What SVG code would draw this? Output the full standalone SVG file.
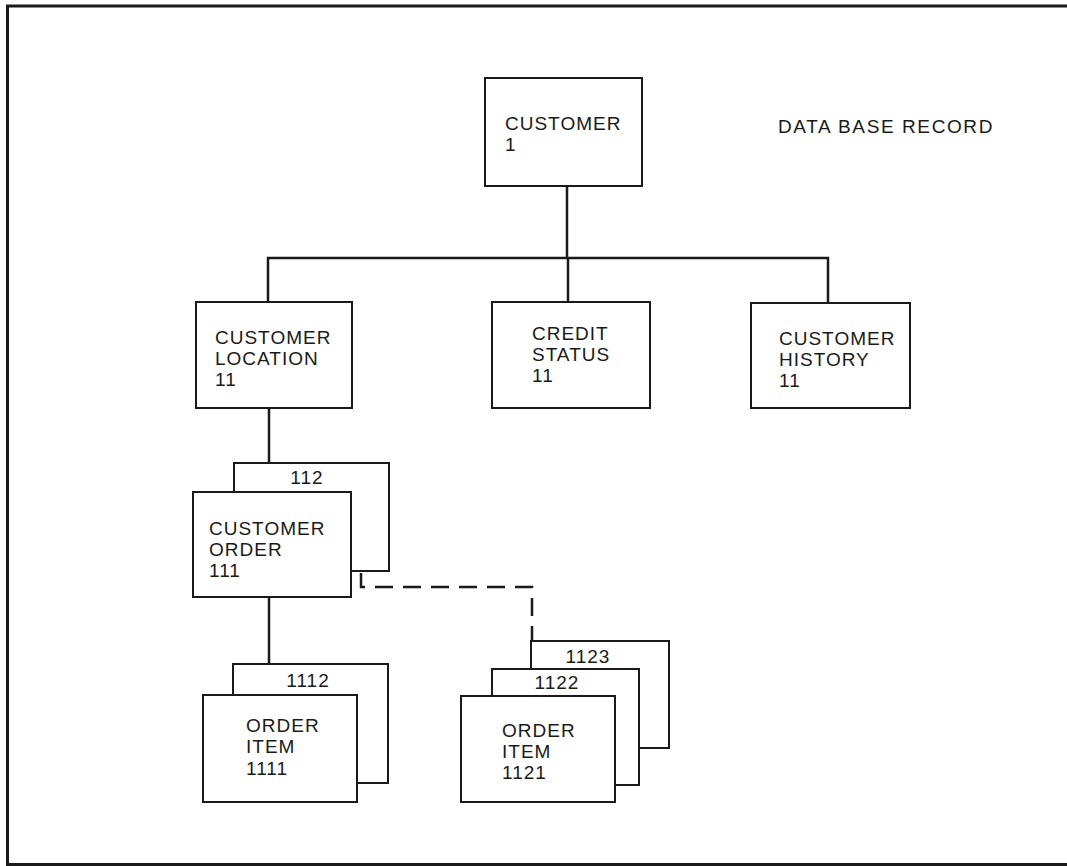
<svg xmlns="http://www.w3.org/2000/svg" width="1067" height="866" viewBox="0 0 1067 866">
  <style>
    .frame { fill: none; stroke: #1a1a1a; stroke-width: 3; }
    .box { fill: #ffffff; stroke: #1a1a1a; stroke-width: 2; }
    .link { fill: none; stroke: #1a1a1a; stroke-width: 2.5; }
    .dash { fill: none; stroke: #1a1a1a; stroke-width: 2.5; stroke-dasharray: 18 10; }
    text { font-family: "Liberation Sans", Arial, sans-serif; font-size: 19px; fill: #1a1a1a; letter-spacing: 1px; }
    .mid { text-anchor: middle; }
  </style>

  <rect x="0" y="0" width="1067" height="866" fill="#ffffff"/>

  <!-- outer frame (right side runs off the page) -->
  <path class="frame" d="M1070 6 H7.5 V864.5 H1070"/>

  <!-- connectors -->
  <g id="connectors">
    <path class="link" d="M567 186 V258"/>
    <path class="link" d="M268 302 V258 H828 V303"/>
    <path class="link" d="M568 258 V302"/>
    <path class="link" d="M269 408 V463"/>
    <path class="link" d="M269 597 V664"/>
    <path class="dash" d="M361 573 V587 H532 V641"/>
  </g>

  <g id="title">
    <text x="778" y="133" style="letter-spacing:1.6px">DATA BASE RECORD</text>
  </g>

  <g id="customer">
    <rect class="box" x="485" y="78" width="157" height="108"/>
    <text x="505" y="130">CUSTOMER</text>
    <text x="505" y="151">1</text>
  </g>

  <g id="customer-location">
    <rect class="box" x="196" y="302" width="156" height="106"/>
    <text x="215" y="344">CUSTOMER</text>
    <text x="215" y="365">LOCATION</text>
    <text x="215" y="386">11</text>
  </g>

  <g id="credit-status">
    <rect class="box" x="492" y="302" width="158" height="106"/>
    <text x="532" y="340">CREDIT</text>
    <text x="532" y="361">STATUS</text>
    <text x="532" y="382">11</text>
  </g>

  <g id="customer-history">
    <rect class="box" x="751" y="303" width="159" height="105"/>
    <text x="779" y="345">CUSTOMER</text>
    <text x="779" y="366">HISTORY</text>
    <text x="779" y="387">11</text>
  </g>

  <g id="customer-order">
    <rect class="box" x="234" y="463" width="155" height="108"/>
    <text class="mid" x="307" y="484">112</text>
    <rect class="box" x="193" y="492" width="158" height="105"/>
    <text x="209" y="535">CUSTOMER</text>
    <text x="209" y="556">ORDER</text>
    <text x="209" y="577">111</text>
  </g>

  <g id="order-item-1111">
    <rect class="box" x="233" y="664" width="155" height="119"/>
    <text class="mid" x="308" y="687">1112</text>
    <rect class="box" x="203" y="695" width="154" height="107"/>
    <text x="246" y="732">ORDER</text>
    <text x="246" y="753">ITEM</text>
    <text x="246" y="775">1111</text>
  </g>

  <g id="order-item-1121">
    <rect class="box" x="531" y="641" width="138" height="107"/>
    <text class="mid" x="588" y="663">1123</text>
    <rect class="box" x="492" y="669" width="147" height="116"/>
    <text class="mid" x="557" y="689">1122</text>
    <rect class="box" x="461" y="696" width="154" height="106"/>
    <text x="502" y="737">ORDER</text>
    <text x="502" y="758">ITEM</text>
    <text x="502" y="779">1121</text>
  </g>
</svg>
